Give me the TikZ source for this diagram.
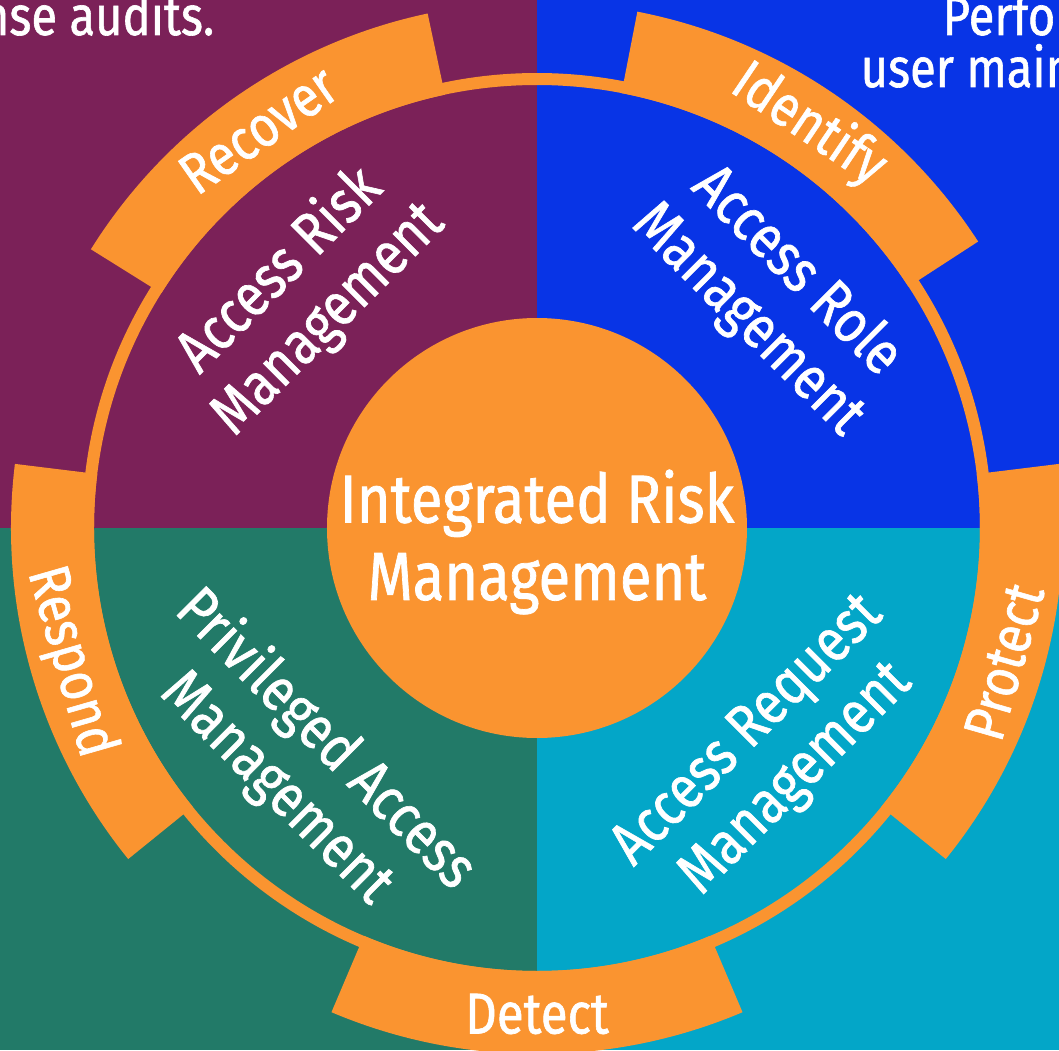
\documentclass[tikz,border=0pt]{standalone}
\usepackage{graphicx}
\usepackage{fontspec}
\setmainfont{Fira Sans}[FakeBold=1.2]
\usetikzlibrary{positioning}

\definecolor{quadpurple}{HTML}{7B2158}
\definecolor{quadblue}{HTML}{0834E6}
\definecolor{quadteal}{HTML}{227A68}
\definecolor{quadcyan}{HTML}{03A6C8}
\definecolor{ringorange}{HTML}{FA9430}

% white letters, a bit taller than the font gives
\newcommand\tallword[1]{\scalebox{1}[1.17]{#1}}

\tikzset{
  tablabel/.style={text=white, font=\fontsize{14}{16}\selectfont},
  quadlabel/.style={text=white, align=center, font=\fontsize{14.6}{19.5}\selectfont},
  corelabel/.style={text=white, align=center, font=\fontsize{16.5}{22}\selectfont},
  edgetext/.style={text=white, inner sep=0pt, font=\fontsize{13.4}{15.5}\selectfont}
}

\begin{document}
\begin{tikzpicture}
          \useasboundingbox (-5.37,-5.22) rectangle (5.22,5.28);
          \clip (-5.37,-5.22) rectangle (5.22,5.28);
          % four quarters
          \fill[quadpurple] (-5.37,0) rectangle (0,5.28);
          \fill[quadblue] (0,0) rectangle (5.22,5.28);
          \fill[quadteal] (-5.37,-5.22) rectangle (0,0);
          \fill[quadcyan] (0,-5.22) rectangle (5.22,0);
          % text cut off at the top
          \node[edgetext, anchor=base east] (audits) at (-3.22,4.93) {\tallword{nse audits.}};
          \node[edgetext, anchor=base west] (perfo) at (4.05,4.93) {\tallword{Perfo}};
          \node[edgetext, anchor=base west] (usermain) at (3.23,4.41) {\tallword{user main}};
          % ring and tabs
          \draw[ringorange, line width=0.12cm] (0,0) circle (4.49);
          \foreach \a/\name/\txt/\rot in {-90/detect/Detect/0, -16/protect/Protect/74, 56/identify/Identify/-34, 125/recover/Recover/35, 196/respond/Respond/-74}{
            \fill[ringorange] (\a-23:4.43) arc[start angle=\a-23, end angle=\a+23, radius=4.43]
              -- (\a+23:5.26) arc[start angle=\a+23, end angle=\a-23, radius=5.26] -- cycle;
            \node[tablabel, rotate=\rot] (\name) at (\a:4.86) {\tallword{\txt}};
          }
          % quarter labels
          \node[quadlabel, rotate=45] (riskmgmt) at (-2.33,2.33) {\tallword{Access Risk}\\\tallword{Management}};
          \node[quadlabel, rotate=-45] (rolemgmt) at (2.35,2.32) {\tallword{Access Role}\\\tallword{Management}};
          \node[quadlabel, rotate=-45] (privmgmt) at (-2.36,-2.36) {\tallword{Privileged Access}\\\tallword{Management}};
          \node[quadlabel, rotate=45] (reqmgmt) at (2.36,-2.28) {\tallword{Access Request}\\\tallword{Management}};
          % centre
          \node[circle, fill=ringorange, minimum size=4.2cm] (core) at (0,0) {};
          \node[corelabel] (coretext) at (0,-0.14) {\tallword{Integrated Risk}\\\tallword{Management}};
        \end{tikzpicture}
\end{document}
